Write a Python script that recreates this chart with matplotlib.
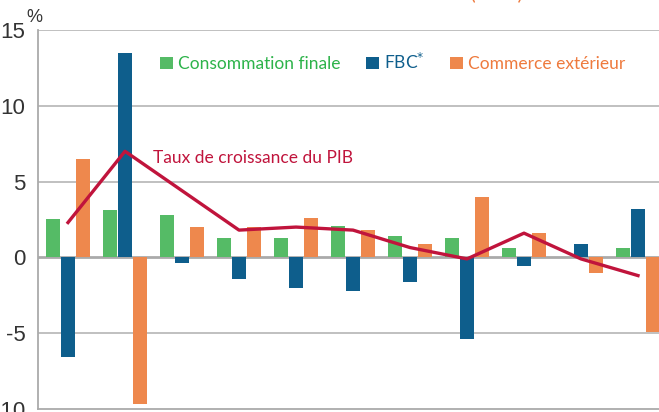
import matplotlib
matplotlib.use("Agg")
import matplotlib.pyplot as plt
import numpy as np

conso = [2.5, 3.1, 2.8, 1.3, 1.3, 2.1, 1.4, 1.3, 0.65, 0.0, 0.65]
fbc = [-6.6, 13.5, -0.4, -1.4, -2.0, -2.2, -1.6, -5.4, -0.6, 0.9, 3.2]
commerce = [6.5, -9.7, 2.0, 2.0, 2.6, 1.8, 0.9, 4.0, 1.6, -1.0, -4.95]
pib = [2.3, 7.0, 4.4, 1.8, 2.0, 1.8, 0.65, -0.1, 1.6, -0.1, -1.2]
yticks = [-10, -5, 0, 5, 10, 15]
labels = ["Consommation finale", "FBC$^{*}$", "Commerce extérieur"]
title = "Contributions à la croissance du PIB (en %)"

GREEN = "#55BB66"
BLUE = "#0E5E8C"
ORANGE = "#EE884D"
RED = "#C0143C"
GREEN_T = "#2DB34A"
ORANGE_T = "#EE7A3D"

plt.rcParams['font.family'] = ['Liberation Sans Narrow', 'Liberation Sans', 'DejaVu Sans']

fig = plt.figure(figsize=(6.59, 4.12), dpi=100)
ax = fig.add_axes([38/659, 3/412, 1 - 38/659, 379/412])

x = np.arange(len(conso))
w = 14/57
off = 15/57
b1 = ax.bar(x - off, conso, w, color=GREEN, zorder=3, label=labels[0])
b2 = ax.bar(x, fbc, w, color=BLUE, zorder=3, label=labels[1])
b3 = ax.bar(x + off, commerce, w, color=ORANGE, zorder=3, label=labels[2])
ax.plot(x, pib, color=RED, lw=2.4, zorder=4)

ax.set_xlim((38-68)/57, (659-68)/57)
ax.set_ylim(-10, 15)
ax.set_yticks(yticks)
ax.set_yticklabels([str(t) for t in yticks], fontsize=16, color="#333333")
ax.set_xticks([])
ax.tick_params(axis='y', length=0, pad=9)
for yv in [-5, 5, 10, 15]:
    ax.axhline(yv, color="#BBBBBB", lw=1.3, zorder=1)
ax.axhline(0, color="#AAAAAA", lw=2.0, zorder=2)
for s in ["top", "right"]:
    ax.spines[s].set_visible(False)
ax.spines["left"].set_color("#AAAAAA")
ax.spines["left"].set_linewidth(1.3)
ax.spines["bottom"].set_color("#AAAAAA")
ax.spines["bottom"].set_linewidth(1.3)

leg = ax.legend(handles=[b1, b2, b3], labels=labels, ncol=3, frameon=False,
                loc="center left", bbox_to_anchor=(160/659, 1 - 62/412),
                bbox_transform=fig.transFigure,
                prop={'family': ['Lato', 'DejaVu Sans'], 'size': 12.5},
                labelcolor=[GREEN_T, BLUE, ORANGE_T],
                handlelength=0.75, handleheight=0.75, handletextpad=0.3,
                columnspacing=1.45, borderaxespad=0, borderpad=0)

fig.text(153/659, 1 - 158/412, "Taux de croissance du PIB", color=RED,
         fontsize=12.5, va="center", ha="left", family=['Lato', 'DejaVu Sans'])
fig.text(34/659, 1 - 17/412, "%", fontsize=13, color="#333333", va="center", ha="center")
fig.text(340/659, 1 + 0.8/412, title, color=ORANGE_T, fontsize=14,
         va="baseline", ha="center", family=['Lato', 'DejaVu Sans'])

fig.savefig("out.png", dpi=100)
